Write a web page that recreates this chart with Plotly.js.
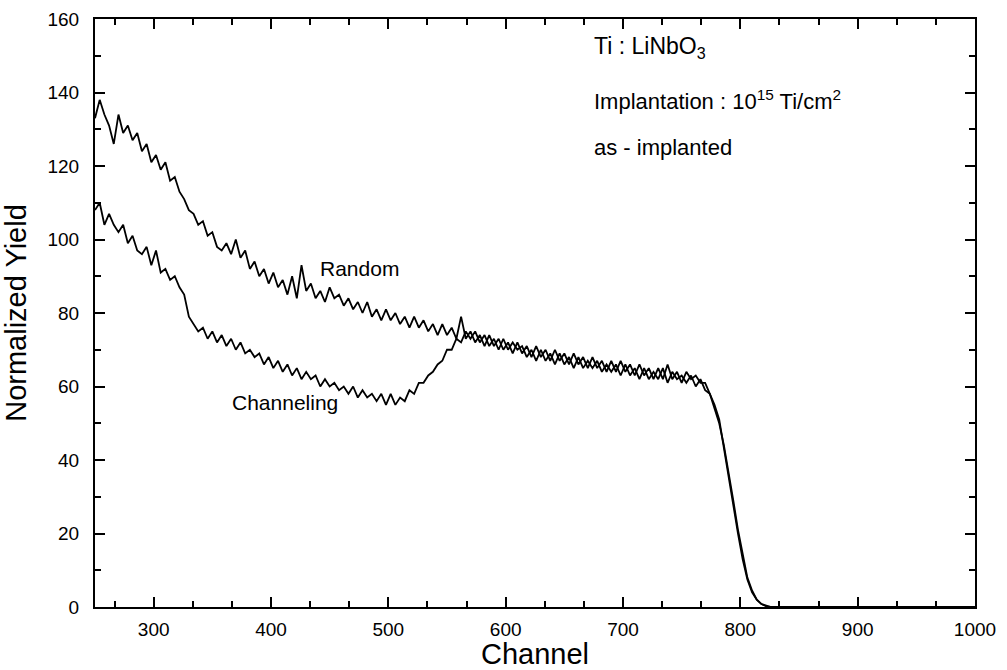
<!DOCTYPE html>
<html>
<head>
<meta charset="utf-8">
<script src="https://cdn.plot.ly/plotly-3.0.1.min.js"></script>
<style>html,body{margin:0;padding:0;background:#fff;}#chart{width:1007px;height:670px;}</style>
</head>
<body>
<div id="chart"></div>
<script>
// Channel numbers
const channels = [250,254,258,262,266,270,274,278,282,286,290,294,298,302,306,310,314,318,322,326,
  330,334,338,342,346,350,354,358,362,366,370,374,378,382,386,390,394,398,402,406,
  410,414,418,422,426,430,434,438,442,446,450,454,458,462,466,470,474,478,482,486,
  490,494,498,502,506,510,514,518,522,526,530,534,538,542,546,550,554,558,562,566,
  570,574,578,582,586,590,594,598,602,606,610,614,618,622,626,630,634,638,642,646,
  650,654,658,662,666,670,674,678,682,686,690,694,698,702,706,710,714,718,722,726,
  730,734,738,742,746,750,754,758,762,766,770,774,778,782,786,790,794,798,802,806,
  810,814,818,822,826,850,900,950,1000];

// Random spectrum (normalized yield)
const randomYield = [133,138,134,131,126,134,129,131,127,129,124,126,121,123,119,121,116,117,113,111,
  108,107,104,105,101,102,98,97,99,96,100,95,97,92,94,90,92,88,91,87,
  89,85,90,84,93,86,88,84,86,83,87,84,85,82,84,81,83,80,83,79,
  81,78,81,78,80,77,79,76,79,76,78,75,77,74,77,74,76,73,79,73,
  75,72,74,71,74,71,73,70,72,69,72,69,71,68,71,68,70,67,70,67,
  69,66,69,66,68,65,68,65,67,64,67,64,67,64,66,63,66,63,65,62,
  65,62,66,62,64,61,64,62,63,61,61,58,55,51,43,36,28,20,13,7.5,
  4,2,0.8,0.2,0,0,0,0,0];

// Channeling spectrum (normalized yield)
const channelingYield = [108,110,104,107,104,102,104,99,101,97,96,98,93,97,91,92,89,90,87,85,
  79,77,75,76,73,75,72,74,71,73,70,72,69,70,68,69,66,68,65,67,
  64,66,63,65,62,64,62,63,60,62,60,61,59,60,58,60,57,59,57,58,
  56,58,55,58,55,57,56,59,58,61,61,63,64,66,67,70,70,73,72,75,
  73,75,72,74,71,73,70,73,70,72,70,71,68,70,67,70,67,69,66,69,
  66,68,65,68,65,67,65,67,64,66,64,66,63,66,63,65,62,65,62,64,
  62,65,61,64,62,63,61,63,60,62,59,58,54,50,44,37,29,21,14,8,
  4.5,2,0.8,0.3,0,0,0,0,0];

const X_RANGE = [250, 1000];
const Y_RANGE = [0, 160];
const X_MAJOR = 100, X_MINOR = 100 / 3;
const Y_MAJOR = 20, Y_MINOR = 10;

const FONT = 'Arial, "Liberation Sans", sans-serif';

const traces = [
  {x: channels, y: randomYield, type: 'scatter', mode: 'lines', name: 'Random',
   line: {color: '#000', width: 1.8}},
  {x: channels, y: channelingYield, type: 'scatter', mode: 'lines', name: 'Channeling',
   line: {color: '#000', width: 1.8}}
];

const axisCommon = {
  showline: true, linecolor: '#000', linewidth: 2, mirror: 'ticks',
  ticks: 'inside', ticklen: 10, tickwidth: 2, tickcolor: '#000',
  showgrid: false, zeroline: false, tickmode: 'linear', tick0: 0,
  tickfont: {family: FONT, size: 19, color: '#000'}
};

const layout = {
  width: 1007, height: 670,
  margin: {l: 95, r: 32, t: 19, b: 63},
  paper_bgcolor: '#fff', plot_bgcolor: '#fff',
  showlegend: false,
  font: {family: FONT, color: '#000'},
  xaxis: Object.assign({}, axisCommon, {
    range: X_RANGE, dtick: X_MAJOR,
    ticklabelstandoff: 4,
    minor: {tickmode: 'linear', tick0: 0, dtick: X_MINOR, ticks: 'inside', ticklen: 6, tickwidth: 2, tickcolor: '#000', showgrid: false},
    title: {text: 'Channel', font: {family: FONT, size: 29, color: '#000'}, standoff: 3}
  }),
  yaxis: Object.assign({}, axisCommon, {
    range: Y_RANGE, dtick: Y_MAJOR,
    ticklabelstandoff: 10,
    minor: {tickmode: 'linear', tick0: 0, dtick: Y_MINOR, ticks: 'inside', ticklen: 6, tickwidth: 2, tickcolor: '#000', showgrid: false},
    title: {text: 'Normalized Yield', font: {family: FONT, size: 29, color: '#000'}, standoff: 14}
  }),
  annotations: [
    {x: 592, y: 47, s: 23, text: 'Ti : LiNbO<sub>3</sub>'},
    {x: 592, y: 100, s: 22, text: 'Implantation : 10<sup>15</sup> Ti/cm<sup>2</sup>'},
    {x: 592, y: 147, s: 22, text: 'as - implanted'},
    {x: 318, y: 268, s: 21, text: 'Random'},
    {x: 230, y: 403, s: 21, text: 'Channeling'}
  ].map(a => ({
    text: a.text,
    xref: 'paper', yref: 'paper',
    x: (a.x - 95) / 880, y: 1 - (a.y - 19) / 588,
    xanchor: 'left', yanchor: 'middle', showarrow: false,
    font: {family: FONT, size: a.s, color: '#000'}
  }))
};

Plotly.newPlot('chart', traces, layout, {displayModeBar: false});
</script>
</body>
</html>
